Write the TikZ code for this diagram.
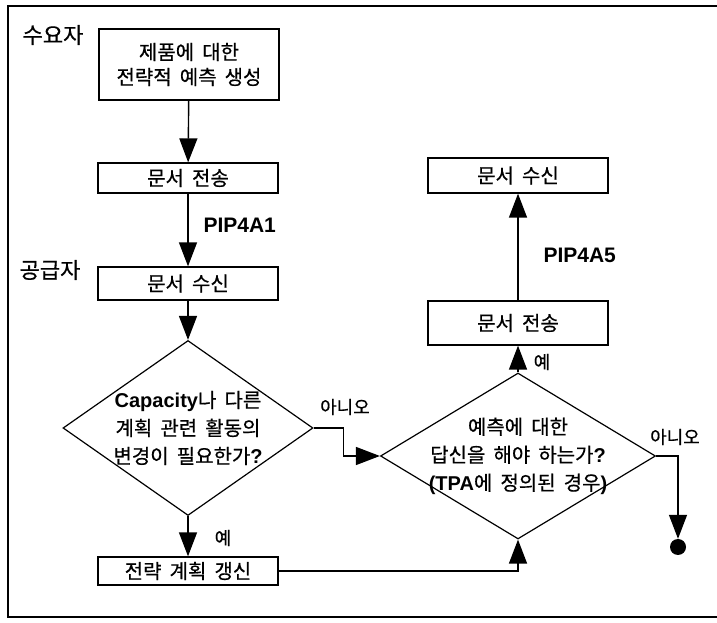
\documentclass[tikz,border=0pt]{standalone}
\usepackage{fontspec}
\setmainfont{Noto Sans CJK KR}[WordSpace=1.8, FakeBold=0.6]
\newfontfamily\arialfont{Liberation Sans}
\usepackage{tikz}
\usetikzlibrary{positioning, arrows.meta, shapes.geometric}

\newcommand{\lat}[1]{{\arialfont\bfseries\fontsize{20}{28}\selectfont #1}}

\begin{document}
\begin{tikzpicture}[
    x=10pt, y=10pt,
    box/.style={rectangle, draw=black, line width=1.3pt, minimum width=180pt,
                minimum height=30pt, font=\fontsize{20}{25}\selectfont, align=center},
    decision/.style={diamond, draw=black, line width=1.2pt, inner sep=0pt},
    dtext/.style={font=\fontsize{20}{28}\selectfont, align=center},
    lbl/.style={font=\fontsize{18}{22}\selectfont},
    role/.style={font=\fontsize{22}{24}\selectfont},
    arrow/.style={-{Triangle[length=24pt, width=18pt]}, line width=1.4pt},
    line/.style={line width=1.4pt}
]
    \useasboundingbox (0,0) rectangle (71.7,62.3);

    % === frame ===
    \draw[line width=2pt] (71.7,61.7) -- (0.8,61.7) -- (0.8,0.6) -- (71.7,0.6);

    % === left column ===
    \node[role] (buyer) at (5.3, 58.8) {수요자};
    \node[role] (seller) at (5.0, 35.3) {공급자};

    \node[box, minimum height=71pt] (forecast) at (18.9, 55.85) {제품에 대한\\전략적 예측 생성};
    \node[box] (send1) at (18.8, 44.5) {문서 전송};
    \node[box, minimum height=33pt] (recv1) at (18.8, 33.95) {문서 수신};
    \node[decision, minimum width=250pt, minimum height=175pt] (capq) at (18.8, 19.5) {};
    \node[dtext] (capqtext) at (capq.center) {\lat{Capacity}나 다른\\계획 관련 활동의\\변경이 필요한가\lat{?}};
    \node[box, minimum height=28pt] (update) at (18.8, 5.2) {전략 계획 갱신};

    \node[anchor=west] (pipa1) at (20.0, 39.8) {\lat{\fontsize{21}{24}\selectfont PIP4A1}};
    \node[lbl] (yes1) at (22.3, 8.5) {예};
    \node[lbl] (no1) at (34.5, 21.6) {아니오};

    % === right column ===
    \node[decision, minimum width=275pt, minimum height=166pt] (replyq) at (51.8, 16.7) {};
    \node[dtext] (replyqtext) at (replyq.center) {예측에 대한\\답신을 해야 하는가\lat{?}\\\lat{(TPA}에 정의된 경우\lat{)}};
    \node[box, minimum height=44pt] (send2) at (51.8, 30.0) {문서 전송};
    \node[box, minimum height=35pt] (recv2) at (51.8, 44.75) {문서 수신};
    \node[circle, fill=black, inner sep=0pt, minimum size=16pt] (stop) at (67.8, 7.6) {};

    \node[anchor=west] (pipa5) at (54.0, 36.8) {\lat{\fontsize{21}{24}\selectfont PIP4A5}};
    \node[lbl] (yes2) at (54.2, 26.1) {예};
    \node[lbl] (no2) at (67.5, 18.6) {아니오};

    % === connectors ===
    \draw[arrow] (forecast) -- (send1);
    \draw[arrow] (send1) -- (recv1);
    \draw[arrow] (recv1) -- (capq.north);
    \draw[arrow] (capq.south) -- (update);
    \draw[arrow] (capq.east) -- ++(3,0) |- (replyq.west);
    \draw[arrow] (update.east) -| (replyq.south);
    \draw[arrow] (replyq.north) -- (send2);
    \draw[arrow] (send2) -- (recv2);
    \draw[arrow] (replyq.east) -| (stop.north);

\end{tikzpicture}
\end{document}
